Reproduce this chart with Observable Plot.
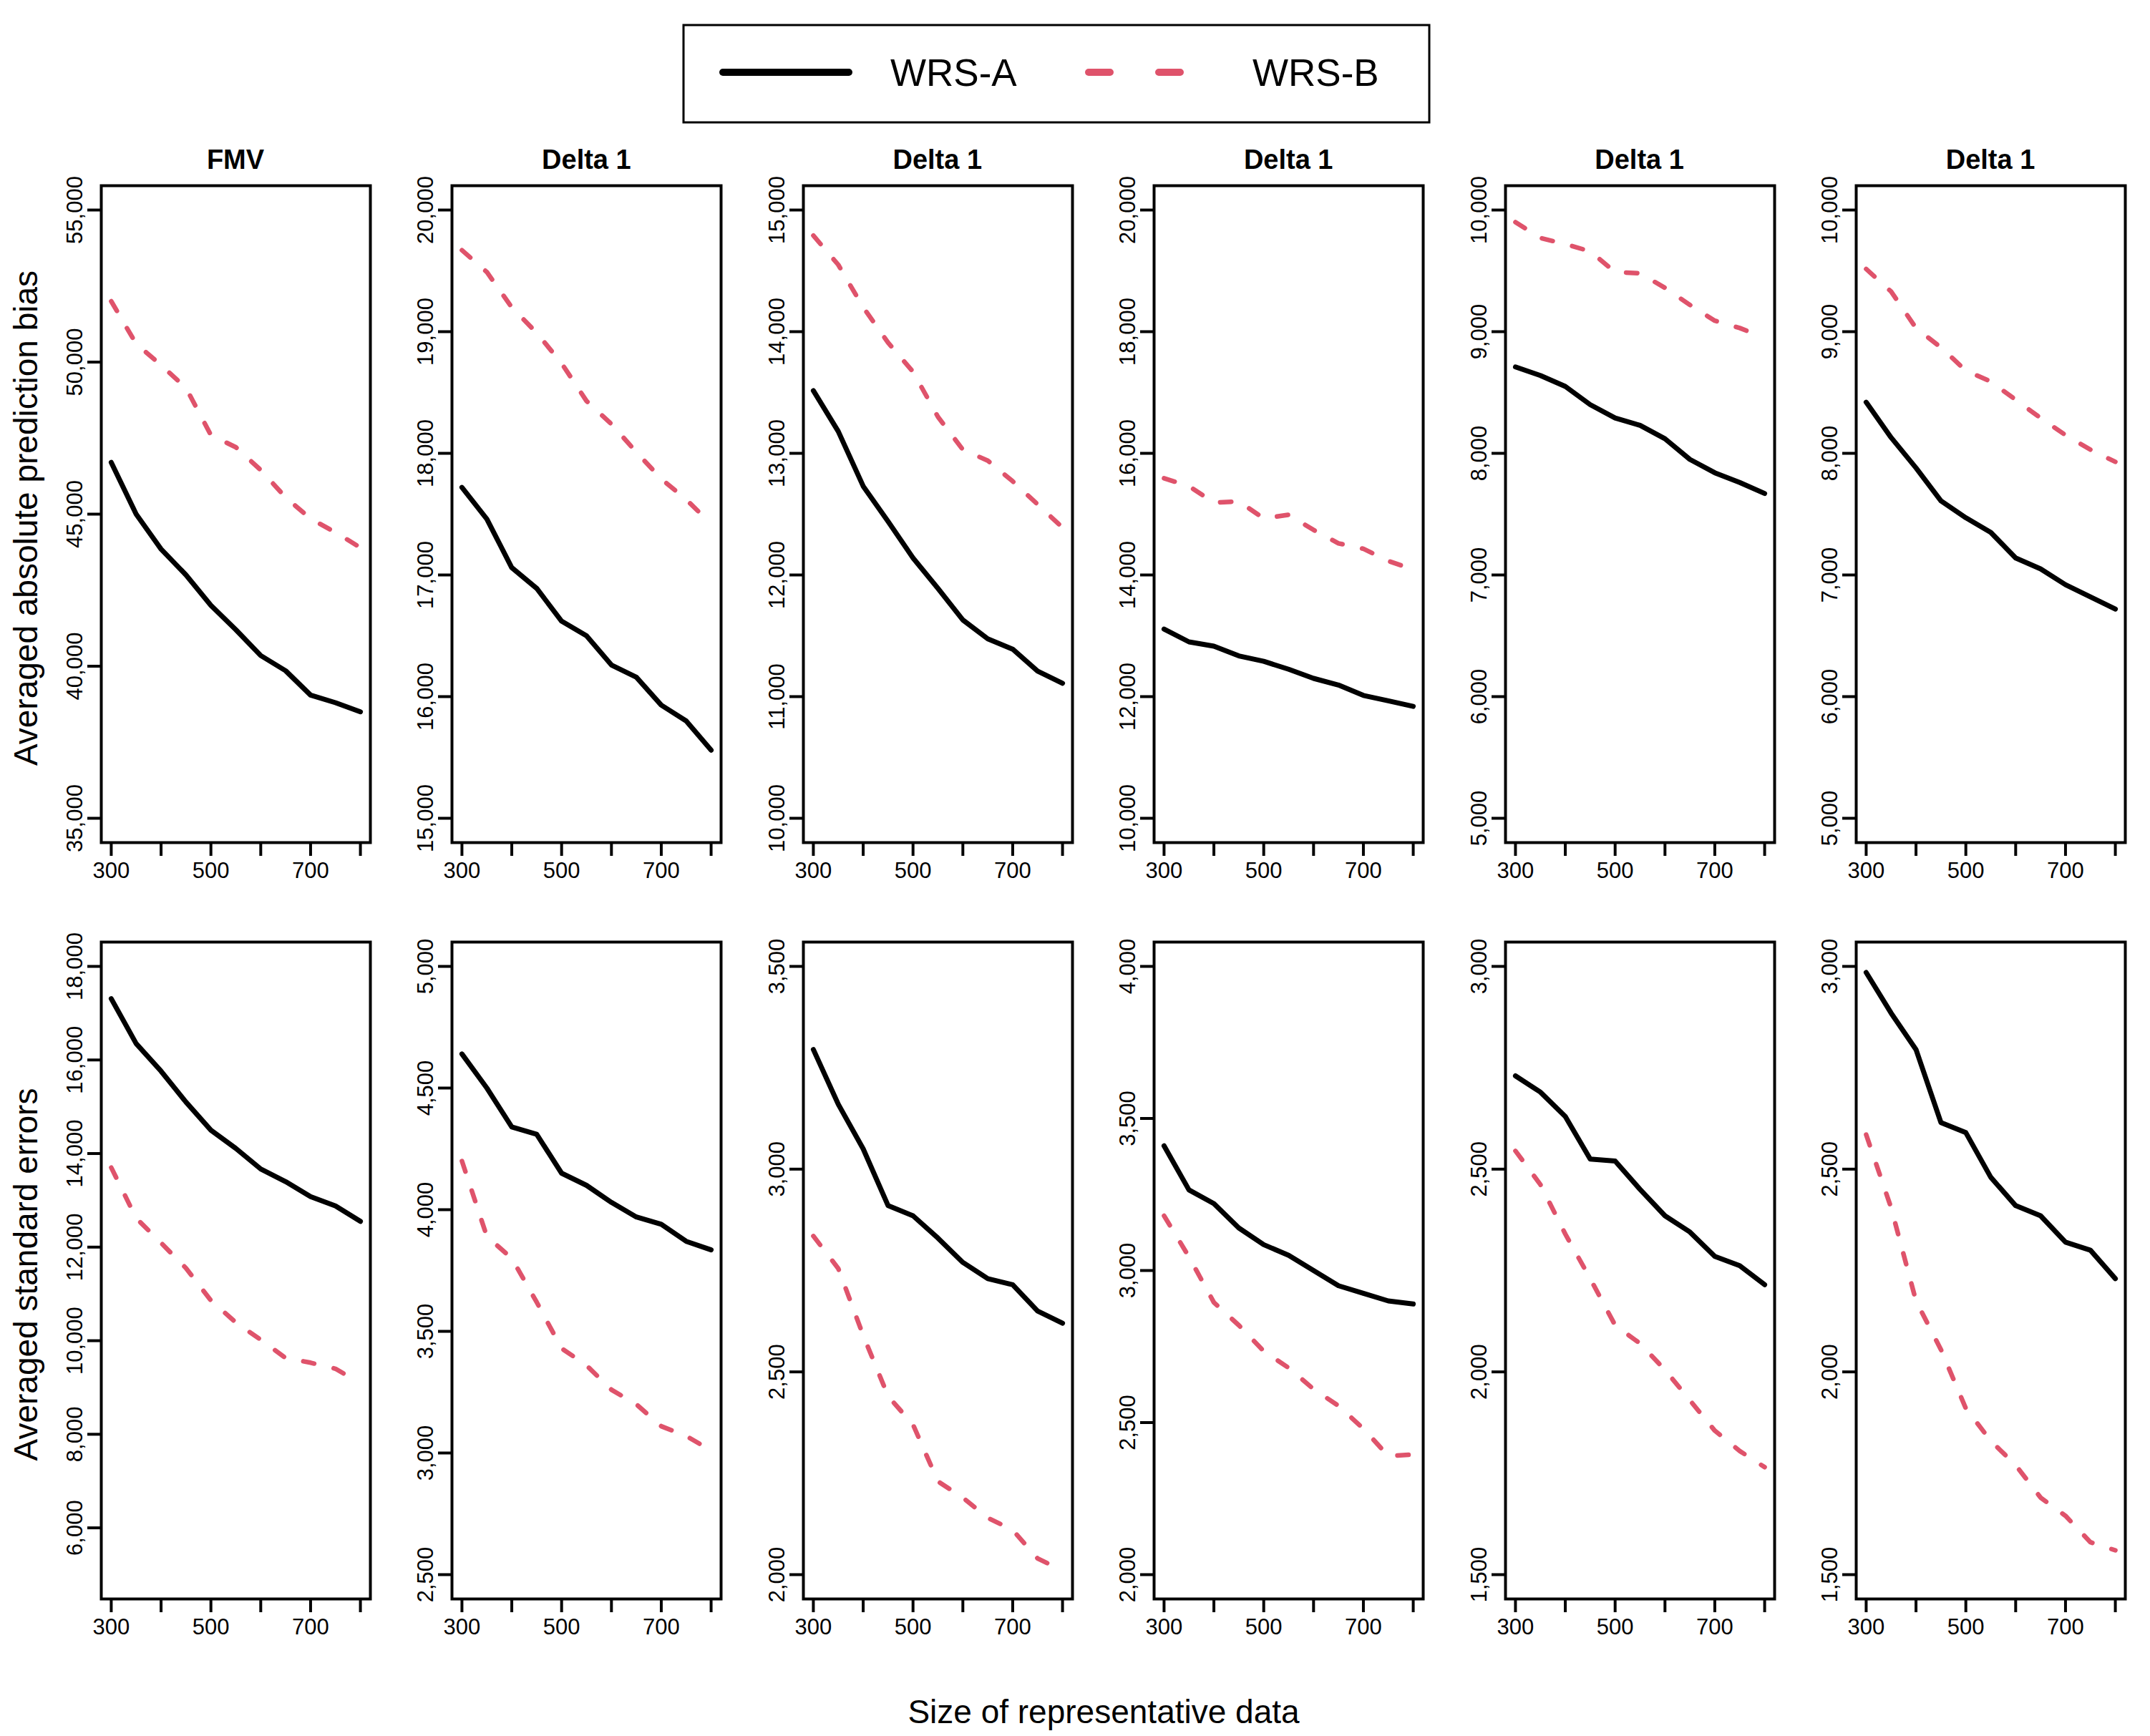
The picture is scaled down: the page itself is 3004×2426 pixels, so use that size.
<!DOCTYPE html>
<html><head><meta charset="utf-8">
<script src="https://cdn.jsdelivr.net/npm/d3@7"></script>
<script src="https://cdn.jsdelivr.net/npm/@observablehq/plot@0.6"></script>
<style>
html,body{margin:0;padding:0;background:#fff;}
body{width:3004px;height:2426px;position:relative;overflow:hidden;font-family:"Liberation Sans",Arial,Helvetica,sans-serif;color:#000;}
.abs{position:absolute;white-space:nowrap;}
.ctr{transform:translate(-50%,-50%);}
svg{overflow:visible;}
</style></head><body>
<script>
// ---------- data ----------
const sizes = [300,350,400,450,500,550,600,650,700,750,800];
const panelTitles = ["FMV","Delta 1","Delta 1","Delta 1","Delta 1","Delta 1"];
const seriesNames = ["WRS-A","WRS-B"];
const seriesColors = ["#000000","#DF536B"];
const rowTitles = ["Averaged absolute prediction bias","Averaged standard errors"];
const xTitle = "Size of representative data";

const biasA = [
  [46700,45000,43850,43000,42000,41200,40350,39850,39050,38800,38500],
  [17720,17460,17060,16890,16620,16500,16260,16160,15930,15800,15560],
  [13515,13180,12730,12440,12140,11890,11630,11475,11390,11210,11110],
  [13110,12900,12830,12670,12580,12450,12300,12190,12020,11930,11840],
  [8710,8640,8550,8400,8290,8230,8120,7950,7840,7760,7670],
  [8420,8130,7880,7610,7470,7350,7140,7050,6920,6820,6720]
];
const biasB = [
  [52000,50600,49900,49150,47600,47200,46450,45550,44850,44400,43900],
  [19670,19490,19200,18990,18740,18430,18240,18010,17790,17620,17420],
  [14790,14550,14200,13910,13670,13300,13030,12940,12770,12580,12390],
  [15590,15460,15190,15210,14930,14990,14740,14520,14430,14230,14090],
  [9900,9770,9720,9660,9490,9480,9360,9220,9090,9030,8950],
  [9515,9330,9030,8870,8680,8590,8440,8290,8150,8030,7930]
];
const seA = [
  [17310,16350,15760,15100,14500,14110,13670,13400,13080,12880,12550],
  [4640,4500,4340,4310,4150,4100,4030,3970,3940,3870,3835],
  [3295,3160,3050,2910,2885,2830,2770,2730,2715,2650,2620],
  [3410,3265,3220,3140,3085,3050,3000,2950,2925,2900,2890],
  [2730,2690,2630,2525,2520,2450,2385,2345,2285,2262,2215],
  [2985,2885,2795,2615,2590,2480,2410,2385,2320,2300,2230]
];
const seB = [
  [13700,12620,12090,11550,10860,10390,10020,9630,9530,9400,9090],
  [4200,3890,3800,3620,3430,3360,3260,3200,3110,3070,3010],
  [2835,2755,2590,2440,2370,2230,2190,2140,2110,2040,2010],
  [3180,3045,2895,2820,2735,2680,2610,2555,2480,2390,2395],
  [2545,2462,2340,2230,2115,2070,2005,1930,1855,1805,1765],
  [2585,2405,2175,2055,1910,1830,1770,1690,1645,1580,1560]
];
const biasLims = [[35000,55000],[15000,20000],[10000,15000],[10000,20000],[5000,10000],[5000,10000]];
const seLims = [[5000,18000],[2500,5000],[2000,3500],[2000,4000],[1500,3000],[1500,3000]];
const biasTicks = [
  [35000,40000,45000,50000,55000],
  [15000,16000,17000,18000,19000,20000],
  [10000,11000,12000,13000,14000,15000],
  [10000,12000,14000,16000,18000,20000],
  [5000,6000,7000,8000,9000,10000],
  [5000,6000,7000,8000,9000,10000]
];
const seTicks = [
  [6000,8000,10000,12000,14000,16000,18000],
  [2500,3000,3500,4000,4500,5000],
  [2000,2500,3000,3500],
  [2000,2500,3000,3500,4000],
  [1500,2000,2500,3000],
  [1500,2000,2500,3000]
];
const xTicks = [300,400,500,600,700,800];
const xLabels = [300,500,700];
const xLims = [300,800];

// ---------- layout ----------
const FONT = '"Liberation Sans",Arial,Helvetica,sans-serif';
const frameW = 376, frameH = 918;
const colLeft0 = 141, colStep = 490.4;
const rowTop = [259, 1316];
const mL = 95, mR = 10, mT = 40, mB = 80;
const pad = (lo, hi) => { const r = hi - lo; return [lo - 0.04*r, hi + 0.04*r]; };

function addDiv(text, x, y, css) {
  const d = document.createElement("div");
  d.className = "abs ctr";
  d.textContent = text;
  d.style.left = x + "px"; d.style.top = y + "px";
  Object.assign(d.style, css || {});
  document.body.appendChild(d);
  return d;
}

const fmt = d3.format(",");
const rows = [
  {A: biasA, B: biasB, lims: biasLims, ticks: biasTicks},
  {A: seA, B: seB, lims: seLims, ticks: seTicks}
];

rows.forEach((row, r) => {
  for (let c = 0; c < 6; c++) {
    const data = [];
    sizes.forEach((s, i) => {
      data.push({size: s, value: row.A[c][i], series: seriesNames[0]});
    });
    sizes.forEach((s, i) => {
      data.push({size: s, value: row.B[c][i], series: seriesNames[1]});
    });
    const chart = Plot.plot({
      width: mL + frameW + mR,
      height: mT + frameH + mB,
      marginLeft: mL, marginRight: mR, marginTop: mT, marginBottom: mB,
      style: {fontFamily: FONT, fontSize: "31px", background: "transparent", color: "#000", overflow: "visible"},
      x: {domain: pad(xLims[0], xLims[1])},
      y: {domain: pad(row.lims[c][0], row.lims[c][1])},
      marks: [
        Plot.line(data.filter(d => d.series === seriesNames[0]), {
          x: "size", y: "value", stroke: seriesColors[0], strokeWidth: 7,
          strokeLinecap: "round", strokeLinejoin: "round"
        }),
        Plot.line(data.filter(d => d.series === seriesNames[1]), {
          x: "size", y: "value", stroke: seriesColors[1], strokeWidth: 6.5,
          strokeDasharray: "15.5,28", strokeLinecap: "round", strokeLinejoin: "round"
        }),
        Plot.frame({stroke: "#000", strokeWidth: 4}),
        Plot.axisX({
          ticks: xTicks, tickSize: 19, tickPadding: 8, strokeWidth: 4,
          tickFormat: d => xLabels.includes(d) ? String(d) : "",
          fontSize: 31, label: null
        }),
        Plot.axisY({
          ticks: row.ticks[c], tickSize: 19, tickPadding: 8, strokeWidth: 4,
          tickFormat: fmt, tickRotate: -90, fontSize: 31, label: null
        })
      ]
    });
    const left = colLeft0 + colStep * c;
    chart.style.position = "absolute";
    chart.style.left = (left - mL) + "px";
    chart.style.top = (rowTop[r] - mT) + "px";
    document.body.appendChild(chart);
    if (r === 0) {
      addDiv(panelTitles[c], left + frameW/2, 223, {fontSize: "38px", fontWeight: "bold"});
    }
  }
});

// row titles and x title
addDiv(rowTitles[0], 36, rowTop[0] + frameH/2 + 6, {fontSize: "46px", transform: "translate(-50%,-50%) rotate(-90deg)"});
addDiv(rowTitles[1], 36, rowTop[1] + frameH/2 + 6, {fontSize: "46px", transform: "translate(-50%,-50%) rotate(-90deg)"});
addDiv(xTitle, 1542, 2392, {fontSize: "46px"});

// legend
const ns = "http://www.w3.org/2000/svg";
const leg = document.createElementNS(ns, "svg");
leg.setAttribute("width", 3004); leg.setAttribute("height", 200);
leg.style.position = "absolute"; leg.style.left = "0px"; leg.style.top = "0px";
function el(tag, attrs, parent) {
  const e = document.createElementNS(ns, tag);
  for (const k in attrs) e.setAttribute(k, attrs[k]);
  (parent || leg).appendChild(e);
  return e;
}
el("rect", {x: 955, y: 35, width: 1042, height: 136, fill: "#fff", stroke: "#000", "stroke-width": 3});
el("line", {x1: 1010, x2: 1186, y1: 101, y2: 101, stroke: seriesColors[0], "stroke-width": 10, "stroke-linecap": "round"});
el("line", {x1: 1521, x2: 1702, y1: 101, y2: 101, stroke: seriesColors[1], "stroke-width": 10, "stroke-linecap": "round", "stroke-dasharray": "30,68"});
const t1 = el("text", {x: 1244, y: 101, "dominant-baseline": "central", "font-size": 53, "font-family": FONT});
t1.textContent = seriesNames[0];
const t2 = el("text", {x: 1750, y: 101, "dominant-baseline": "central", "font-size": 53, "font-family": FONT});
t2.textContent = seriesNames[1];
document.body.appendChild(leg);
</script>
</body></html>
